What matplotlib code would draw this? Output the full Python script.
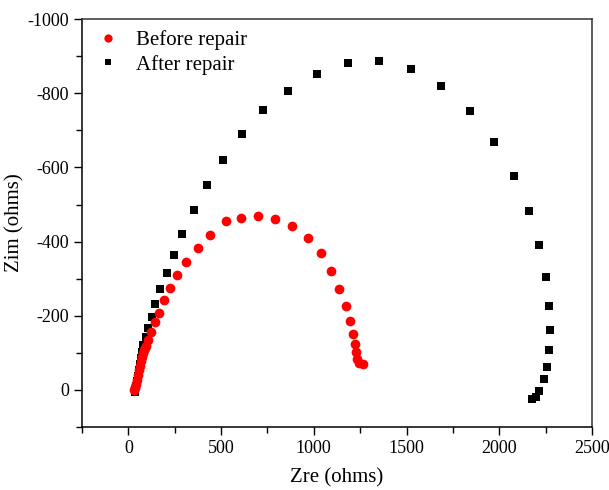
import matplotlib
matplotlib.use("Agg")
import matplotlib.pyplot as plt
from matplotlib.ticker import MultipleLocator

plt.rcParams["font.family"] = ["Liberation Serif", "DejaVu Serif"]
plt.rcParams["axes.unicode_minus"] = False

# Before repair (red circles)
before_zre = [30, 34, 38, 43, 48, 54, 59, 65, 70, 75, 81, 86, 92, 97, 108, 124, 145,
              167, 194, 226, 264, 313, 377, 442, 528, 609, 700, 792, 884, 970,
              1040, 1094, 1137, 1175, 1196, 1212, 1223, 1228, 1234, 1245, 1266]
before_zim = [0, -4, -8, -16, -27, -40, -54, -65, -78, -89, -100, -108, -112, -118,
              -135, -156, -183, -208, -243, -275, -310, -345, -383, -418, -455,
              -464, -469, -461, -442, -410, -369, -321, -272, -226, -186, -151,
              -124, -102, -84, -73, -70]

# After repair (black squares)
after_zre = [38, 43, 48, 54, 59, 65, 70, 75, 81, 97, 108, 129, 145, 172, 210, 248,
             291, 356, 426, 512, 614, 727, 862, 1018, 1185, 1352, 1525, 1686,
             1843, 1972, 2080, 2161, 2214, 2252, 2268, 2274, 2268, 2258, 2241,
             2214, 2198, 2177]
after_zim = [5, -11, -24, -38, -54, -70, -86, -102, -121, -143, -167, -197, -232,
             -272, -315, -364, -420, -485, -552, -620, -690, -755, -806, -852,
             -881, -887, -865, -819, -752, -668, -577, -482, -391, -305, -226,
             -162, -108, -62, -30, 3, 19, 24]

fig = plt.figure(figsize=(6.09, 4.9), dpi=100)
ax = fig.add_axes([0.1346, 0.1286, 0.8374, 0.8324])

ax.plot(before_zre, before_zim, "o", color="#ff0000", markersize=7,
        markeredgewidth=0, label="Before repair", zorder=3)
ax.plot(after_zre, after_zim, "s", color="black", markersize=5.5,
        markeredgewidth=0, label="After repair", zorder=2)

ax.set_xlim(-250, 2500)
ax.set_ylim(100, -1000)
ax.xaxis.set_major_locator(MultipleLocator(500))
ax.xaxis.set_minor_locator(MultipleLocator(250))
ax.yaxis.set_major_locator(MultipleLocator(200))
ax.yaxis.set_minor_locator(MultipleLocator(100))
ax.tick_params(which="major", direction="out", length=6, width=1, labelsize=13,
               top=False, right=False)
ax.tick_params(which="minor", direction="out", length=4, width=1,
               top=False, right=False)

for side in ["left", "bottom"]:
    ax.spines[side].set_linewidth(1.1)
    ax.spines[side].set_color("black")
for side in ["top", "right"]:
    ax.spines[side].set_linewidth(1.1)
    ax.spines[side].set_color("#333333")

ax.set_xlabel("Zre (ohms)", fontsize=15, labelpad=8)
ax.set_ylabel("Zim (ohms)", fontsize=15, labelpad=2)

ax.legend(loc="upper left", bbox_to_anchor=(0.005, 1.0), frameon=False,
          fontsize=15, handletextpad=0.7, handlelength=1.2, borderaxespad=0.15,
          labelspacing=0.2, markerscale=0.85)

fig.savefig("out.png", dpi=100)
